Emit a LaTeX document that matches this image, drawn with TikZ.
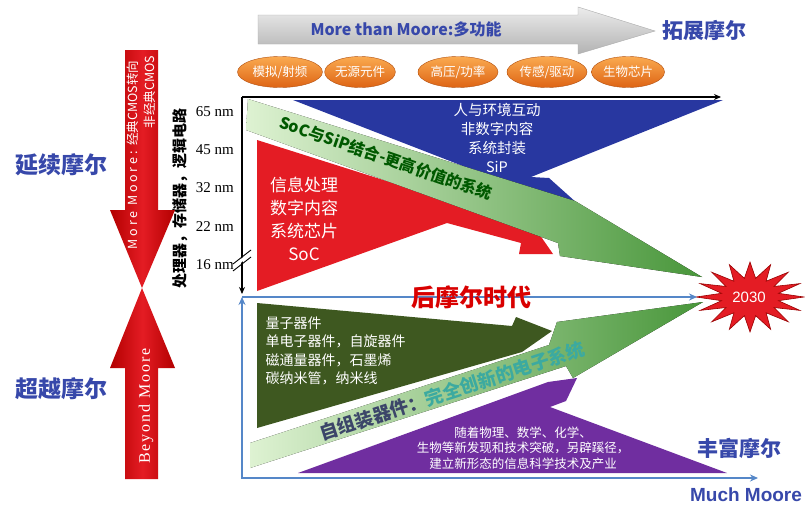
\documentclass[tikz,border=0pt]{standalone}
\usepackage{fontspec}
\setmainfont{Liberation Serif}
\newfontfamily\cjk{Noto Sans CJK SC}
\newfontfamily\sansb{Liberation Sans}
\usetikzlibrary{arrows.meta,calc,shapes.geometric}
\definecolor{myblue}{RGB}{40,55,160}
\definecolor{myred}{RGB}{228,28,36}
\definecolor{darkolive}{RGB}{62,88,32}
\definecolor{mypurple}{RGB}{112,46,160}
\definecolor{frameblue}{RGB}{85,135,200}
\definecolor{labelblue}{RGB}{55,72,170}
\definecolor{bandlight}{RGB}{222,242,210}
\definecolor{banddark}{RGB}{72,150,58}
\definecolor{orangeA}{RGB}{250,170,80}
\definecolor{orangeB}{RGB}{222,100,20}
\definecolor{tealtext}{RGB}{60,170,160}
\definecolor{slatetext}{RGB}{60,70,105}
\newcommand\myfs[2]{\fontsize{#1}{#2}\selectfont}
\begin{document}
\begin{tikzpicture}[x=1pt,y=-1pt,
  pill/.style={ellipse, minimum height=31pt, inner sep=0pt, top color=orangeA, bottom color=orangeB, draw=orangeB!80!black, line width=0.4pt, text=white, font=\cjk\myfs{12.5}{12.5}},
  axisline/.style={line width=1.6pt, black},
  frameline/.style={line width=2.2pt, frameblue},
  redarrow/.style={left color=red!70!black, right color=red!70!black, middle color=myred},
  band/.style={left color=bandlight, right color=banddark},
  sidelabel/.style={font=\cjk\bfseries\myfs{23}{23}, text=labelblue},
  nm/.style={anchor=east, font=\myfs{15}{15}, inner sep=0pt}
]
\useasboundingbox (0,0) rectangle (805,506);
\fill[white] (0,0) rectangle (805,506);

% ---------- top grey arrow ----------
\shade[top color=gray!15, bottom color=gray!60, draw=gray!65] (258,15) -- (578,15) -- (578,7) -- (655,31) -- (578,54) -- (578,44) -- (258,44) -- cycle;
\node (mtm) at (406,29) {\cjk\bfseries\myfs{16}{16}\color{labelblue}More than Moore:多功能};
\node (tuozhan) at (704,31) {\cjk\bfseries\myfs{21}{21}\color{labelblue}拓展摩尔};

% ---------- orange pills ----------
\node[pill, minimum width=85pt] (p1) at (280,72) {模拟/射频};
\node[pill, minimum width=64pt] (p2) at (360,72) {无源元件};
\node[pill, minimum width=80pt] (p3) at (458,72) {高压/功率};
\node[pill, minimum width=80pt] (p4) at (547,72) {传感/驱动};
\node[pill, minimum width=73pt] (p5) at (628,72) {生物芯片};

% ---------- upper shapes ----------
\fill[myblue] (293,100) -- (723,100) -- (531,177) -- (549,178) -- (578,204) -- (540,196) -- cycle;
\fill[myred] (257,140) -- (535,228) -- (553,254) -- (519,254) -- (521,243) -- (447,223) -- (257,291) -- cycle;
\fill[band] (248,99) -- (575,201) -- (702,277) -- (560,256) -- (558,243) -- (246,130) -- cycle;

\node[align=center, text=white, font=\cjk\myfs{14.5}{19}] (siptext) at (497,138) {人与环境互动\\非数字内容\\系统封装\\SiP};
\node[align=center, text=white, font=\cjk\myfs{17}{23}] (soctext) at (304,219) {信息处理\\数字内容\\系统芯片\\SoC};
\node[rotate=-19, inner sep=0pt, text=green!35!black, font=\cjk\bfseries\myfs{16}{16}] (band1text) at (386,158) {SoC与SiP结合-更高价值的系统};

% ---------- lower shapes ----------
\fill[darkolive] (257,303) -- (512,326) -- (516,317) -- (552,331) -- (522,352) -- (257,428) -- cycle;
\fill[mypurple] (298,473) -- (727,473) -- (550,407) -- (566,401) -- (577,378) -- (548,382) -- cycle;
\fill[band] (250,443) -- (549,345) -- (557,322) -- (703,302) -- (573,378) -- (566,366) -- (250,468) -- cycle;

\node[anchor=west, align=left, text=white, font=\cjk\myfs{14}{18.5}] (qtext) at (262,351) {量子器件\\单电子器件，自旋器件\\磁通量器件，石墨烯\\碳纳米管，纳米线};
\node[align=center, text=white, font=\cjk\myfs{12.5}{15.5}] (ptext) at (523,448) {随着物理、数学、化学、\\生物等新发现和技术突破，另辟蹊径，\\建立新形态的信息科学技术及产业};
\node[rotate=18, inner sep=0pt, font=\cjk\bfseries\myfs{18.5}{18.5}] (band2text) at (452,391) {\color{slatetext}自组装器件：\color{tealtext}完全创新的电子系统};

% ---------- black axes ----------
\coordinate (o) at (242,97);
\coordinate (xend) at (721,97);
\coordinate (yend) at (242,294);
\draw[axisline, -{Stealth[length=7pt,width=6pt]}] (o) -- (xend);
\draw[axisline, -{Stealth[length=7pt,width=6pt]}] (o) -- (yend);
\draw[white, line width=3pt] (236,265) -- (249,254);
\draw[black, line width=0.9pt] (233,264) -- (251,250);
\draw[black, line width=0.9pt] (233,271) -- (251,257);

\node[nm] (n65) at (234,112) {65 nm};
\node[nm] (n45) at (234,150) {45 nm};
\node[nm] (n32) at (234,188) {32 nm};
\node[nm] (n22) at (234,227) {22 nm};
\node[nm] (n16) at (234,265) {16 nm};
\node[rotate=90, inner sep=0pt, font=\cjk\bfseries\myfs{15}{15}] (proc) at (180,198) {处理器，存储器，逻辑电路};

% ---------- star ----------
\begin{scope}[shift={(750,297)}]
\fill[myred, draw=red!60!black, line width=0.6pt] plot[samples=33, domain=0:32, variable=\t]
  ({cos(\t*11.25)*(mod(round(\t),2)==0 ? 54 : 29)}, {sin(\t*11.25)*(mod(round(\t),2)==0 ? 35 : 19)}) -- cycle;
\end{scope}
\node[text=white, font=\sansb\myfs{15}{15}] (y2030) at (749,297) {2030};
\coordinate (starw) at (697,297);

% ---------- blue frame ----------
\coordinate (bo) at (242,297);
\coordinate (bl) at (242,478);
\coordinate (br) at (758,478);
\draw[frameline, -{Stealth[length=8pt,width=7pt]}] (bo) -- (starw);
\draw[frameline, {Stealth[length=8pt,width=7pt]}-{Stealth[length=8pt,width=7pt]}] (bo) -- (bl) -- (br);
\node[text=red!85!black, font=\cjk\bfseries\myfs{24}{24}] (post) at (471,297) {后摩尔时代};

% ---------- left red arrows ----------
\shade[redarrow] (125,50) -- (158,50) -- (158,210) -- (175,210) -- (142,288) -- (110,210) -- (125,210) -- cycle;
\shade[redarrow] (125,479) -- (158,479) -- (158,368) -- (175,368) -- (142,288) -- (110,368) -- (125,368) -- cycle;
\node[rotate=90, inner sep=0pt, text=white, font=\cjk\myfs{12.5}{12.5}] (mm1) at (133,155) {M o r e\ \ M o o r e :\ \ 经典CMOS转向};
\node[rotate=90, inner sep=0pt, text=white, font=\cjk\myfs{12.5}{12.5}] (mm2) at (150,92) {非经典CMOS};
\node[rotate=90, text=white, font=\myfs{16}{16}\addfontfeatures{LetterSpace=12}] (bm) at (146,406) {Beyond Moore};

% ---------- side labels ----------
\node[sidelabel] (yanxu) at (61,165) {延续摩尔};
\node[sidelabel] (chaoyue) at (61,389) {超越摩尔};
\node[text=labelblue, font=\cjk\bfseries\myfs{21}{21}] (fengfu) at (739,448) {丰富摩尔};
\node[text=labelblue, font=\sansb\bfseries\myfs{19}{19}] (much) at (746,495) {Much Moore};
\end{tikzpicture}
\end{document}
